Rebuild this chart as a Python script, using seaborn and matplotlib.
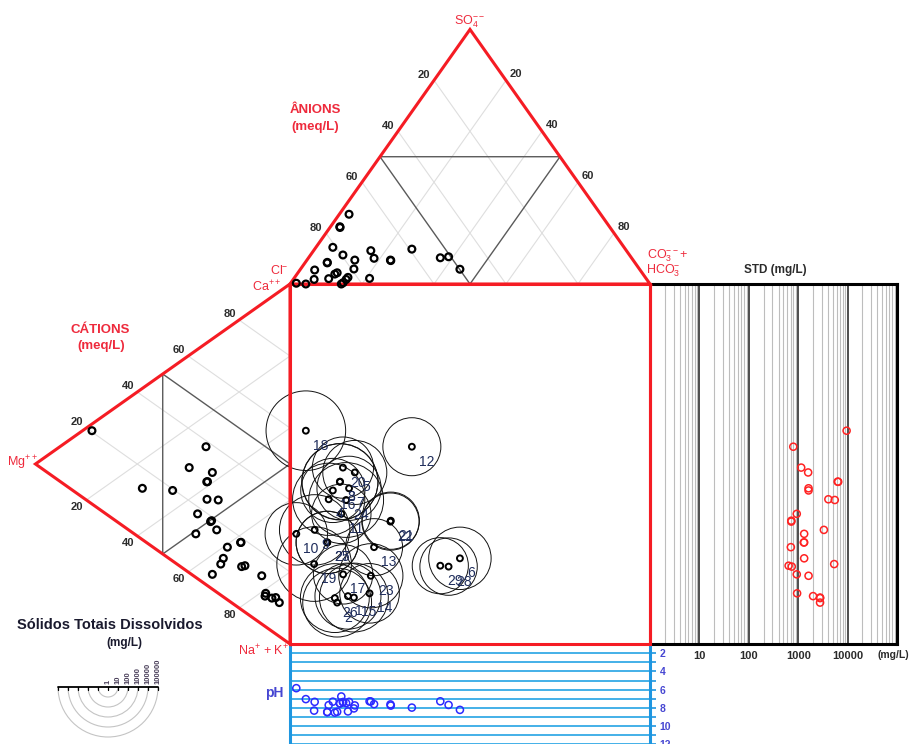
import numpy as np
import pandas as pd
import matplotlib
matplotlib.use("Agg")
import matplotlib.pyplot as plt
from matplotlib.patches import Circle, Polygon, Arc
from matplotlib.ticker import FixedLocator, NullLocator
import seaborn as sns

# ---------------- sample data ----------------
sample_ids = list(range(1, 30))
# anions (% meq/L): SO4 and CO3+HCO3 (Cl = remainder)
so4 = [2.6, 4.4, 22.5, 2.1, 9.4, 5.8, 27.4, 22.2, 5.5, 0.3, 0.0, 13.7, 10.1, 2.2, 5.9,
       14.4, 0.5, 0.0, 1.8, 11.4, 9.2, 9.4, 13.1, 1.8, 8.3, 3.9, 8.5, 10.7, 10.3]
hco3 = [14.8, 10.9, 2.6, 9.7, 13.3, 44.3, 2.7, 2.8, 4.1, 1.6, 14.25, 27.0, 18.3, 21.0, 14.8,
        4.7, 14.5, 4.4, 5.8, 9.0, 23.4, 23.2, 15.9, 14.7, 6.2, 10.5, 6.1, 38.7, 36.6]
# cations (% meq/L): Ca and Mg (Na+K = remainder)
ca = [8.4, 9.4, 28.7, 23.9, 32.4, 10.7, 14.25, 28.9, 17.3, 12.1, 18.0, 38.3, 14.6, 9.3, 10.1,
      19.6, 4.1, 20.35, 8.6, 29.2, 18.85, 18.4, 13.4, 25.9, 18.5, 9.2, 18.6, 12.0, 12.9]
mg = [9.8, 4.2, 32.7, 32.6, 30.5, 26.2, 58.0, 32.4, 28.8, 37.0, 36.3, 33.0, 24.6, 9.55, 5.6,
      46.1, 30.5, 77.8, 27.2, 39.6, 30.8, 31.2, 11.1, 28.2, 19.4, 7.1, 19.25, 19.0, 17.7]
# total dissolved solids (mg/L) and pH
tds = [2000, 2770, 6450, 4080, 1590, 1320, 1620, 6300, 3310, 1320, 935, 795, 710, 950, 2770,
       1620, 935, 9550, 5350, 1150, 725, 725, 1620, 5500, 1300, 2770, 1320, 740, 640]
ph = [8.39, 8.43, 7.50, 7.70, 7.73, 8.22, 7.34, 7.52, 7.34, 5.84, 6.75, 7.97, 7.59, 7.28, 8.06,
      7.32, 7.37, 7.04, 8.30, 7.37, 7.75, 7.62, 7.30, 7.48, 8.45, 8.52, 8.47, 7.68, 7.28]

tds_legend = [1, 10, 100, 1000, 10000, 100000]
tri_ticks = [20, 40, 60, 80]
std_ticks = [10, 100, 1000, 10000]
ph_ticks = [2, 4, 6, 8, 10, 12]

# ---------------- style ----------------
sns.set_theme(style="white")
plt.rcParams["font.family"] = ["Liberation Sans", "DejaVu Sans"]
plt.rcParams["mathtext.fontset"] = "custom"
plt.rcParams["mathtext.rm"] = "Liberation Sans"
plt.rcParams["mathtext.it"] = "Liberation Sans:italic"
plt.rcParams["mathtext.bf"] = "Liberation Sans:bold"

RED = "#f51c24"
RED_T = "#ee2a3c"
DARK = "#2b2b2b"
NAVY = "#1f2d5c"
BLUE_L = "#35aae6"
BLUE_B = "#1e96e0"
BLUE_T = "#4646d2"

W, HP = 909, 744
S = 3.6            # pixels per percent unit
X0, Y0 = 290, 644  # pixel position of the square's lower-left corner
TH = 100 / np.sqrt(2)  # triangle height in percent units
PH_STEP = 9.125    # pixels per pH unit


def fig_box(x0, y0, x1, y1):
    return [x0 / W, 1 - y1 / HP, (x1 - x0) / W, (y1 - y0) / HP]


def P(px, py):
    return (px - X0) / S, (Y0 - py) / S


def shift(x, y, dxp, dyp):
    return x + dxp / S, y - dyp / S


def anion_xy(s, h):
    return h + s / 2.0, 100 + s * TH / 100.0


def cation_xy(c, m):
    return -m * TH / 100.0, c + m / 2.0


df = pd.DataFrame(dict(id=sample_ids, so4=so4, hco3=hco3, ca=ca, mg=mg, tds=tds, ph=ph))
df["ax"], df["ay"] = anion_xy(df.so4, df.hco3)
df["cx"], df["cy"] = cation_xy(df.ca, df.mg)
df["sx"], df["sy"] = df["ax"], df["cy"]
df["r"] = 10 * np.log10(df.tds) / S

fig = plt.figure(figsize=(W / 100, HP / 100), dpi=100)
fig.patch.set_facecolor("white")

# ---------------- STD panel (log scale) ----------------
ax_std = fig.add_axes(fig_box(650, 284, 897, 644))
ax_std.set_xscale("log")
ax_std.set_xlim(1, 1e5)
ax_std.set_ylim(0, 100)
for dec in [1, 10, 100, 1000, 10000]:
    for m in range(2, 10):
        ax_std.axvline(dec * m, color="#bdbdbd", lw=0.8, zorder=1)
for dec in std_ticks:
    ax_std.axvline(dec, color="#1e1e1e", lw=1.1, zorder=1)
ax_std.xaxis.set_major_locator(FixedLocator(std_ticks))
ax_std.xaxis.set_minor_locator(NullLocator())
ax_std.set_xticklabels([str(t) for t in std_ticks], fontsize=8, fontweight="bold", color=DARK)
ax_std.tick_params(axis="x", which="both", length=0, pad=5)
ax_std.set_yticks([])
for side in ["top", "right", "bottom"]:
    ax_std.spines[side].set_color("black")
    ax_std.spines[side].set_linewidth(2.2)
ax_std.spines["left"].set_color(RED)
ax_std.spines["left"].set_linewidth(2.2)
sns.scatterplot(x=df.tds, y=df.sy, ax=ax_std, s=26, facecolor="none",
                edgecolor="#ff2222", linewidth=1.1, legend=False, zorder=5)
ax_std.set_xlim(1, 1e5)
ax_std.set_ylim(0, 100)
ax_std.set_xlabel("")
ax_std.set_ylabel("")

# ---------------- pH panel ----------------
ph_bottom = 644 + 13 * PH_STEP
ax_ph = fig.add_axes(fig_box(290, 644, 650, ph_bottom))
ax_ph.set_xlim(0, 100)
ax_ph.set_ylim(14, 1)
for v in range(2, 14):
    ax_ph.axhline(v, color=BLUE_L, lw=1.3, zorder=1)
ax_ph.yaxis.tick_right()
ax_ph.set_yticks(ph_ticks)
ax_ph.set_yticklabels([str(t) for t in ph_ticks], fontsize=7.5, fontweight="bold", color=BLUE_T)
ax_ph.yaxis.set_minor_locator(FixedLocator([3, 5, 7, 9, 11, 13]))
ax_ph.tick_params(axis="y", which="both", right=True, length=4, width=1.2, color=BLUE_B, pad=3)
ax_ph.set_xticks([])
for side in ["top", "bottom"]:
    ax_ph.spines[side].set_visible(False)
for side in ["left", "right"]:
    ax_ph.spines[side].set_color(BLUE_B)
    ax_ph.spines[side].set_linewidth(2.2)
sns.scatterplot(x=df.sx, y=df.ph, ax=ax_ph, s=26, facecolor="none",
                edgecolor="#2b2bff", linewidth=1.1, legend=False, zorder=5)
ax_ph.set_xlim(0, 100)
ax_ph.set_ylim(14, 1)
ax_ph.set_xlabel("")
ax_ph.set_ylabel("")

# ---------------- main diagram ----------------
ax = fig.add_axes([0, 0, 1, 1])
ax.set_xlim(-X0 / S, (W - X0) / S)
ax.set_ylim((Y0 - HP) / S, Y0 / S)
ax.axis("off")
ax.patch.set_alpha(0)

GRID = "#dedede"
for k in tri_ticks:
    # anion triangle: constant HCO3 and constant Cl
    p0 = anion_xy(0, k); p1 = anion_xy(100 - k, k)
    ax.plot([p0[0], p1[0]], [p0[1], p1[1]], color=GRID, lw=0.8, zorder=1)
    p0 = anion_xy(0, 100 - k); p1 = anion_xy(100 - k, 0)
    ax.plot([p0[0], p1[0]], [p0[1], p1[1]], color=GRID, lw=0.8, zorder=1)
    # cation triangle: constant Ca and constant Na+K
    p0 = cation_xy(k, 0); p1 = cation_xy(k, 100 - k)
    ax.plot([p0[0], p1[0]], [p0[1], p1[1]], color=GRID, lw=0.8, zorder=1)
    p0 = cation_xy(100 - k, 0); p1 = cation_xy(0, 100 - k)
    ax.plot([p0[0], p1[0]], [p0[1], p1[1]], color=GRID, lw=0.8, zorder=1)

# medial triangles
a_mid = [anion_xy(50, 0), anion_xy(50, 50), anion_xy(0, 50)]
c_mid = [cation_xy(50, 50), cation_xy(0, 50), cation_xy(50, 0)]
ax.add_patch(Polygon(a_mid, closed=True, fill=False, ec="#5a5a5a", lw=1.0, zorder=2))
ax.add_patch(Polygon(c_mid, closed=True, fill=False, ec="#5a5a5a", lw=1.0, zorder=2))

# outlines
a_tri = [anion_xy(0, 0), anion_xy(0, 100), anion_xy(100, 0)]
c_tri = [cation_xy(100, 0), cation_xy(0, 100), cation_xy(0, 0)]
ax.add_patch(Polygon(a_tri, closed=True, fill=False, ec=RED, lw=2.2, zorder=4, joinstyle="miter"))
ax.add_patch(Polygon(c_tri, closed=True, fill=False, ec=RED, lw=2.2, zorder=4, joinstyle="miter"))
ax.add_patch(Polygon([(0, 0), (100, 0), (100, 100), (0, 100)], closed=True, fill=False,
                     ec=RED, lw=2.2, zorder=4))

# TDS circles in the square
for _, row in df.iterrows():
    ax.add_patch(Circle((row.sx, row.sy), row.r, fill=False, ec="#111111", lw=0.7, zorder=3))

# points
sns.scatterplot(x=df["ax"], y=df["ay"], ax=ax, s=24, facecolor="none", edgecolor="black",
                linewidth=1.6, legend=False, zorder=6)
sns.scatterplot(x=df["cx"], y=df["cy"], ax=ax, s=24, facecolor="none", edgecolor="black",
                linewidth=1.6, legend=False, zorder=6)
sns.scatterplot(x=df["sx"], y=df["sy"], ax=ax, s=18, facecolor="none", edgecolor="black",
                linewidth=1.4, legend=False, zorder=6)
ax.set_xlim(-X0 / S, (W - X0) / S)
ax.set_ylim((Y0 - HP) / S, Y0 / S)
ax.set_xlabel("")
ax.set_ylabel("")

for _, row in df.iterrows():
    ax.text(row.sx + 2.0, row.sy - 2.2, str(int(row.id)), ha="left", va="top",
            fontsize=10, color=NAVY, zorder=7)

# scale labels on triangle edges
tk = dict(fontsize=8, fontweight="bold", color=DARK, ha="center", va="center")
for k in tri_ticks:
    x, y = anion_xy(100 - k, 0)          # left edge: Cl
    ax.text(*shift(x, y, -10, -5), str(k), **tk)
    x, y = anion_xy(100 - k, k)          # right edge: HCO3
    ax.text(*shift(x, y, 10, -6), str(k), **tk)
    x, y = cation_xy(k, 100 - k)         # upper edge: Ca
    ax.text(*shift(x, y, -9, -6), str(k), **tk)
    x, y = cation_xy(0, 100 - k)         # lower edge: Na+K
    ax.text(*shift(x, y, -9, 7.5), str(k), **tk)

# vertex and group labels
vk = dict(fontsize=9, color=RED_T)
ax.text(*P(470, 22), r"SO$_4^{--}$", ha="center", va="center", **vk)
ax.text(*P(647, 256), r"CO$_3^{--}$+", ha="left", va="center", **vk)
ax.text(*P(646, 271), r"HCO$_3^{-}$", ha="left", va="center", **vk)
ax.text(*P(289, 271), r"Cl$^{-}$", ha="right", va="center", **vk)
ax.text(*P(281, 287), r"Ca$^{++}$", ha="right", va="center", **vk)
ax.text(*P(22, 463), r"Mg$^{++}$", ha="center", va="center", **vk)
ax.text(*P(263, 651), r"Na$^{+}$ + K$^{+}$", ha="center", va="center", **vk)

gk = dict(fontsize=9.5, fontweight="bold", color=RED_T, ha="center", va="center")
ax.text(*P(315, 110), "ÂNIONS", **gk)
ax.text(*P(315, 127), "(meq/L)", **gk)
ax.text(*P(100, 330), "CÁTIONS", **gk)
ax.text(*P(101, 346), "(meq/L)", **gk)

ax.text(*P(775, 270), "STD (mg/L)", fontsize=8.5, fontweight="bold", color=DARK,
        ha="center", va="center")
ax.text(*P(893, 655), "(mg/L)", fontsize=7.5, fontweight="bold", color=DARK,
        ha="center", va="center")
ax.text(*P(274, 693), "pH", fontsize=10, fontweight="bold", color=BLUE_T,
        ha="center", va="center")

# TDS size legend
ax.text(*P(110, 625), "Sólidos Totais Dissolvidos", fontsize=10.5, fontweight="bold",
        color="#1a1a2e", ha="center", va="center")
ax.text(*P(124, 643), "(mg/L)", fontsize=8.5, fontweight="bold", color="#1a1a2e",
        ha="center", va="center")
lx, ly = P(108, 687)
rmax = 10 * np.log10(max(tds_legend)) / S
for v in tds_legend[1:]:
    rr = 10 * np.log10(v) / S
    ax.add_patch(Arc((lx, ly), 2 * rr, 2 * rr, theta1=180, theta2=360,
                     color="#c4c4c4", lw=0.8, zorder=2))
ax.plot([lx - rmax, lx + rmax], [ly, ly], color="black", lw=1.3, zorder=3)
for j in range(-5, 6):
    tx = lx + j * 10 / S
    ax.plot([tx, tx], [ly, ly - 3 / S], color="black", lw=0.9, zorder=3)
for v in tds_legend:
    rr = 10 * np.log10(v) / S
    ax.text(lx + rr, ly + 3 / S, str(v), rotation=90, ha="center", va="bottom",
            fontsize=5.5, fontweight="bold", color="#4a3f5a", zorder=3)

fig.savefig("out.png", dpi=100, facecolor="white")
